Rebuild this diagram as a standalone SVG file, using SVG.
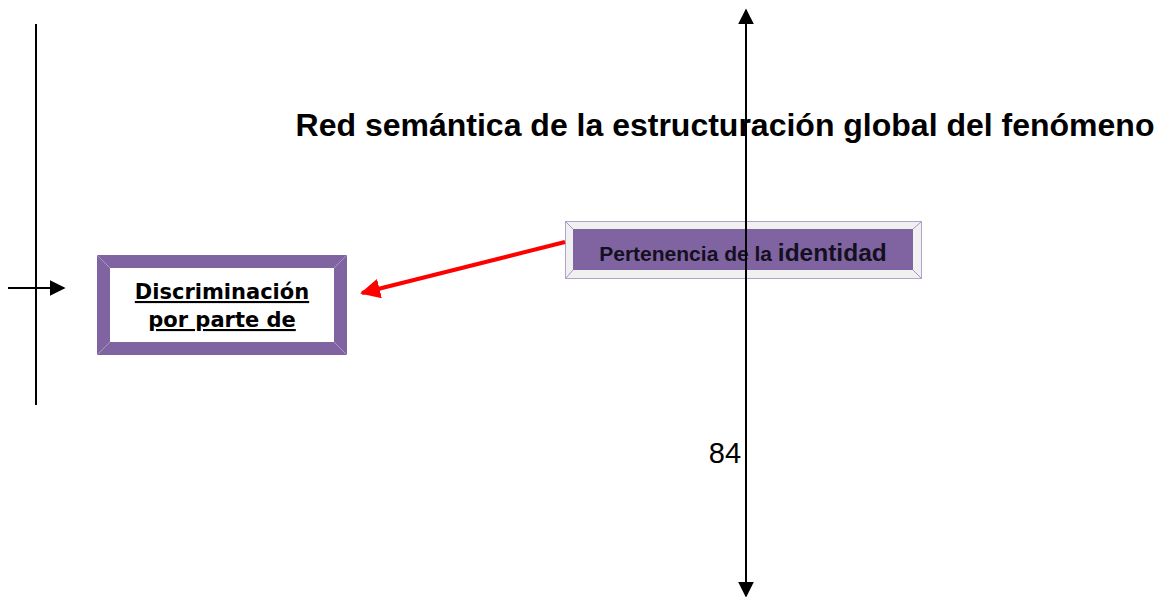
<svg xmlns="http://www.w3.org/2000/svg" width="1160" height="597" viewBox="0 0 1160 597">
<style>
.ln{stroke:#000;stroke-width:2;fill:none}
.t1{font-family:"DejaVu Sans",sans-serif;font-weight:bold;font-size:21px;text-decoration:underline;fill:#000}
.t2{font-family:"Liberation Sans",Arial,sans-serif;font-weight:bold;fill:#141020}
.bev{stroke:#a895c4;stroke-width:1}
</style>
<defs>
<marker id="ab2" viewBox="0 0 10 10" refX="9" refY="5" markerWidth="16" markerHeight="16" markerUnits="userSpaceOnUse" orient="auto-start-reverse"><path d="M0,0L10,5L0,10z" fill="#000"/></marker>
<marker id="ar" viewBox="0 0 10 10" refX="9" refY="5" markerWidth="5" markerHeight="5" orient="auto"><path d="M0,0L10,5L0,10z" fill="#f00"/></marker>
</defs>
<g id="title"><text x="725" y="136" text-anchor="middle" font-family="Liberation Sans, Arial, sans-serif" font-weight="bold" font-size="32">Red semántica de la estructuración global del fenómeno</text></g>
<g id="n1">
<rect x="97" y="255" width="250" height="100" fill="#8064a2"/>
<rect x="110" y="268" width="224" height="74" fill="#fff"/>
<path class="bev" d="M97,255L110,268M347,255L334,268M97,355L110,342M347,355L334,342"/>
<text class="t1" x="222" y="299" text-anchor="middle">Discriminación</text>
<text class="t1" x="222" y="327" text-anchor="middle">por parte de</text>
</g>
<g id="n2">
<rect x="565.5" y="221.5" width="356" height="57" fill="#f0f0f0" stroke="#b3a3cc" stroke-width="1"/>
<rect x="573" y="229" width="340" height="41" fill="#8064a2"/>
<path class="bev" d="M566,222L573,229M921,222L913,229M566,278L573,270M921,278L913,270" stroke="#d8d8d8"/>
<text class="t2" x="743" y="261" text-anchor="middle"><tspan font-size="21">Pertenencia de la </tspan><tspan font-size="24.5">identidad</tspan></text>
</g>
<g id="page"><text x="725" y="463" text-anchor="middle" font-family="Liberation Sans, Arial, sans-serif" font-size="29">84</text></g>
<g id="connectors">
<line class="ln" x1="36" y1="24" x2="36" y2="405"/>
<line x1="8" y1="288" x2="64" y2="288" stroke="#000" stroke-width="2" marker-end="url(#ab2)"/>
<line x1="746" y1="10" x2="746" y2="596" stroke="#000" stroke-width="2" marker-start="url(#ab2)" marker-end="url(#ab2)"/>
<line x1="565" y1="242" x2="362" y2="293" stroke="#f00" stroke-width="4" marker-end="url(#ar)"/>
</g>
</svg>
